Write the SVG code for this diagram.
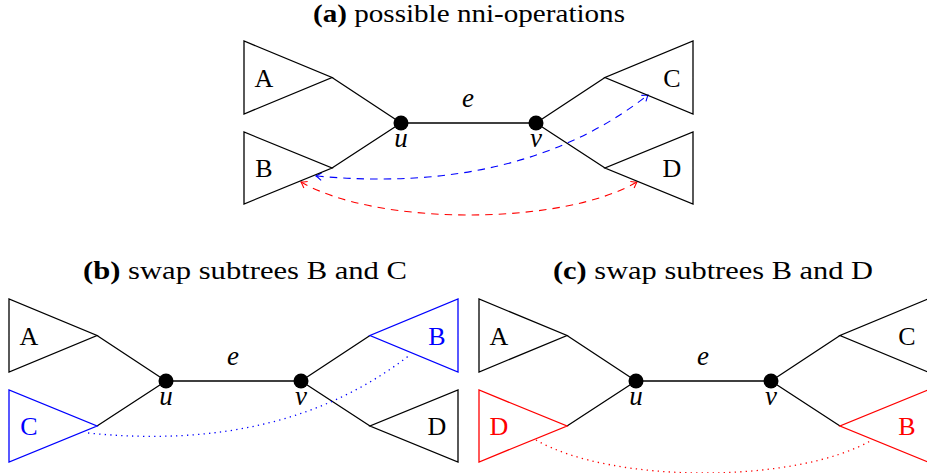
<svg xmlns="http://www.w3.org/2000/svg" width="927" height="473" viewBox="0 0 927 473">
<style>
.tri{fill:none;stroke:#000;stroke-width:1.3;stroke-linejoin:miter}
.blue{stroke:#0000ff}
.red{stroke:#ff0000}
.edge{stroke:#000;stroke-width:1.3;fill:none}
.dot{fill:#000}
.lbl{font-family:"Liberation Serif","Times New Roman",serif;font-size:26px;text-anchor:middle;fill:#000}
.lb{fill:#0000ff}
.lr{fill:#ff0000}
.math{font-family:"Liberation Serif","Times New Roman",serif;font-style:italic;font-size:27px;text-anchor:middle;fill:#000}
.title{font-family:"Liberation Serif","Times New Roman",serif;font-size:26px;fill:#000}
.dashB{fill:none;stroke:#0000ff;stroke-width:1.1;stroke-dasharray:7.5 6}
.dashR{fill:none;stroke:#ff0000;stroke-width:1.1;stroke-dasharray:7.5 6}
.dotB{fill:none;stroke:#0000ff;stroke-width:1.3;stroke-dasharray:1.3 4.2}
.dotR{fill:none;stroke:#ff0000;stroke-width:1.3;stroke-dasharray:1.3 4.2}
</style>
<defs>
<marker id="arrBlue" viewBox="-7 -5 9 10" markerWidth="9" markerHeight="10" refX="0" refY="0" orient="auto-start-reverse" markerUnits="userSpaceOnUse">
<path d="M-5.5,-3.8 Q-1.6,-0.9 0,0 Q-1.6,0.9 -5.5,3.8" fill="none" stroke="#0000ff" stroke-width="1.1"/>
</marker>
<marker id="arrRed" viewBox="-7 -5 9 10" markerWidth="9" markerHeight="10" refX="0" refY="0" orient="auto-start-reverse" markerUnits="userSpaceOnUse">
<path d="M-5.5,-3.8 Q-1.6,-0.9 0,0 Q-1.6,0.9 -5.5,3.8" fill="none" stroke="#ff0000" stroke-width="1.1"/>
</marker>
</defs>

<!-- Titles -->
<text class="title" x="313" y="22" textLength="312" lengthAdjust="spacingAndGlyphs"><tspan font-weight="bold">(a)</tspan> possible nni-operations</text>
<text class="title" x="83" y="279" textLength="324" lengthAdjust="spacingAndGlyphs"><tspan font-weight="bold">(b)</tspan> swap subtrees B and C</text>
<text class="title" x="553" y="279" textLength="320" lengthAdjust="spacingAndGlyphs"><tspan font-weight="bold">(c)</tspan> swap subtrees B and D</text>

<!-- Panel (a) -->
<g id="panel-a">
  <g id="connectors-a">
    <path class="edge" d="M332,77.5 L401,123 M332,168 L401,123 M401,123 L536,123 M536,123 L605,77.5 M536,123 L605,168"/>
    <text class="math" x="468" y="107">e</text>
    <path class="dashB" d="M316,176 Q520,195 648,95" marker-start="url(#arrBlue)" marker-end="url(#arrBlue)"/>
    <path class="dashR" d="M301,182 C377,226 561,226 637,182" marker-start="url(#arrRed)" marker-end="url(#arrRed)"/>
  </g>
  <g id="a-A"><polygon class="tri" points="244,41 244,114 332,77.5"/><text class="lbl" x="264" y="87">A</text></g>
  <g id="a-B"><polygon class="tri" points="244,132 244,204 332,168"/><text class="lbl" x="264" y="177">B</text></g>
  <g id="a-C"><polygon class="tri" points="693,41 693,114 605,77.5"/><text class="lbl" x="672" y="87">C</text></g>
  <g id="a-D"><polygon class="tri" points="693,132 693,204 605,168"/><text class="lbl" x="672" y="177">D</text></g>
  <g id="a-u"><circle class="dot" cx="401" cy="123" r="7.5"/><text class="math" x="401" y="147">u</text></g>
  <g id="a-v"><circle class="dot" cx="536" cy="123" r="7.5"/><text class="math" x="536" y="147">v</text></g>
</g>

<!-- Panel (b) -->
<g id="panel-b" transform="translate(-235,258)">
  <g id="connectors-b">
    <path class="edge" d="M332,77.5 L401,123 M332,168 L401,123 M401,123 L536,123 M536,123 L605,77.5 M536,123 L605,168"/>
    <text class="math" x="468" y="107">e</text>
    <path class="dotB" d="M323,175 Q520,195 646,96"/>
  </g>
  <g id="b-A"><polygon class="tri" points="244,41 244,114 332,77.5"/><text class="lbl" x="264" y="87">A</text></g>
  <g id="b-C"><polygon class="tri blue" points="244,132 244,204 332,168"/><text class="lbl lb" x="264" y="177">C</text></g>
  <g id="b-B"><polygon class="tri blue" points="693,41 693,114 605,77.5"/><text class="lbl lb" x="672" y="87">B</text></g>
  <g id="b-D"><polygon class="tri" points="693,132 693,204 605,168"/><text class="lbl" x="672" y="177">D</text></g>
  <g id="b-u"><circle class="dot" cx="401" cy="123" r="7.5"/><text class="math" x="401" y="147">u</text></g>
  <g id="b-v"><circle class="dot" cx="536" cy="123" r="7.5"/><text class="math" x="536" y="147">v</text></g>
</g>

<!-- Panel (c) -->
<g id="panel-c" transform="translate(235,258)">
  <g id="connectors-c">
    <path class="edge" d="M332,77.5 L401,123 M332,168 L401,123 M401,123 L536,123 M536,123 L605,77.5 M536,123 L605,168"/>
    <text class="math" x="468" y="107">e</text>
    <path class="dotR" d="M301,182 C377,226 561,226 637,182"/>
  </g>
  <g id="c-A"><polygon class="tri" points="244,41 244,114 332,77.5"/><text class="lbl" x="264" y="87">A</text></g>
  <g id="c-D"><polygon class="tri red" points="244,132 244,204 332,168"/><text class="lbl lr" x="264" y="177">D</text></g>
  <g id="c-C"><polygon class="tri" points="693,41 693,114 605,77.5"/><text class="lbl" x="672" y="87">C</text></g>
  <g id="c-B"><polygon class="tri red" points="693,132 693,204 605,168"/><text class="lbl lr" x="672" y="177">B</text></g>
  <g id="c-u"><circle class="dot" cx="401" cy="123" r="7.5"/><text class="math" x="401" y="147">u</text></g>
  <g id="c-v"><circle class="dot" cx="536" cy="123" r="7.5"/><text class="math" x="536" y="147">v</text></g>
</g>
</svg>
